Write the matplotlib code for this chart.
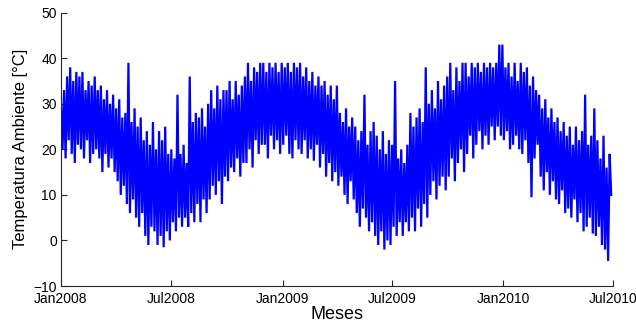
import numpy as np
import pandas as pd
import matplotlib
matplotlib.use("Agg")
import matplotlib.pyplot as plt

# Temperature readings (°C), alternating peaks and troughs, half-month blocks
temp_2008 = [
    30, 20, 33, 18, 36, 22,   38, 19, 35, 17, 37, 21,   # Jan
    36, 20, 37, 18, 33, 22,   35, 17, 34, 19, 36, 20,   # Feb
    33, 18, 34, 15, 31, 19,   33, 16, 30, 18, 32, 15,   # Mar
    29, 13, 31, 10, 27, 12,   28, 8, 39, 6, 26, 9,      # Apr
    29, 5, 25, 3, 27, 6,      22, 1, 24, -1, 21, 3,     # May
    26, 2, 20, -1, 24, 1,     22, -1.5, 25, 2, 19, 0,   # Jun
    20, 4, 18, 2, 32, 5,      19, 3, 21, 5, 17, 3,      # Jul
    36, 6, 26, 4, 28, 8,      27, 4, 29, 9, 25, 6,      # Aug
    30, 9, 33, 12, 29, 10,    34, 13, 31, 8, 33, 14,    # Sep
    33, 13, 35, 16, 31, 15,   35, 18, 32, 14, 34, 17,   # Oct
    36, 17, 39, 20, 35, 16,   38, 22, 37, 19, 39, 21,   # Nov
    39, 21, 37, 18, 39, 23,   38, 20, 39, 22, 37, 19,   # Dec
]
temp_2009 = [
    39, 21, 38, 23, 39, 19,   37, 18, 39, 22, 38, 20,   # Jan
    39, 19, 36, 22, 38, 18,   35, 20, 37, 17.5, 34, 21, # Feb
    36, 16, 34, 19, 35, 14,   32, 17, 34, 13, 31, 15,   # Mar
    34, 12, 28, 14, 26, 10,   29, 8, 25, 13, 27, 9,     # Apr
    25, 6, 22, 3, 24, 7,      32, 5, 21, 2, 24, 4,      # May
    26, 1, 23, -1, 20, 2,     24, -2, 19, 0, 22, -1,    # Jun
    21, 3, 35, 1, 18, 4,      20, 1, 17, 4, 21, 2,      # Jul
    28, 5, 25, 2, 27, 7,      29, 3, 26, 8, 38, 5,      # Aug
    30, 10, 33, 13, 29, 9,    35, 12, 31, 14, 34, 11,   # Sep
    36, 14, 39, 18, 33, 13,   38, 17, 35, 20, 39, 15,   # Oct
    39, 19, 36, 23, 39, 18,   38, 21, 39, 24, 37, 20,   # Nov
    39, 23, 38, 21, 39, 25,   38, 22, 39, 25, 43, 23,   # Dec
]
temp_2010 = [
    43, 22, 38, 24, 39, 20,   36, 21, 39, 23, 35, 20,   # Jan
    39, 19, 37, 22, 38, 17,   34, 9.5, 36, 18, 33, 21,  # Feb
    32, 14, 29, 11, 31, 15,   27, 10, 29, 13, 26, 9,    # Mar
    27, 8, 24, 11, 26, 6,     23, 7, 25, 5, 21, 9,      # Apr
    25, 4, 22, 6, 24, 2,      32, 3, 21, 5, 23, 1.5,    # May
    29, 1, 22, 3, 18, -1,     23, -2, 16, -4.5, 19, 10, # Jun
]
temperature = temp_2008 + temp_2009 + temp_2010
start_date, end_date = "2008-01-01", "2010-06-28"

tick_dates = ["2008-01-01", "2008-07-01", "2009-01-01",
              "2009-07-01", "2010-01-01", "2010-07-01"]
tick_labels = ["Jan2008", "Jul2008", "Jan2009", "Jul2009", "Jan2010", "Jul2010"]
y_ticks = [-10, 0, 10, 20, 30, 40, 50]

plt.rcParams['font.family'] = ['Liberation Sans', 'DejaVu Sans']

dates = pd.date_range(start_date, end_date, periods=len(temperature))

fig = plt.figure(figsize=(6.36, 3.27), dpi=100)
ax = fig.add_axes([61/636, 1-286/327, (613-61)/636, (286-12.7)/327])
ax.plot(dates, temperature, color=(0, 0, 1), lw=1.6, solid_joinstyle="miter")

ax.set_xlim(pd.Timestamp(tick_dates[0]), pd.Timestamp(tick_dates[-1]))
ax.set_ylim(-10, 50)
ax.set_xticks([pd.Timestamp(d) for d in tick_dates])
ax.set_xticklabels(tick_labels)
ax.set_yticks(y_ticks)
for s in ["top", "right"]:
    ax.spines[s].set_visible(False)
for s in ["left", "bottom"]:
    ax.spines[s].set_color("#262626")
    ax.spines[s].set_linewidth(0.8)
ax.tick_params(direction="in", length=4, width=0.8, labelsize=10,
               color="#262626")
ax.tick_params(axis="x", pad=4)
ax.tick_params(axis="y", pad=3)
ax.set_xlabel("Meses", fontsize=13, labelpad=0)
ax.set_ylabel("Temperatura Ambiente [°C]", fontsize=12, labelpad=4)

fig.savefig("out.png", dpi=100)
